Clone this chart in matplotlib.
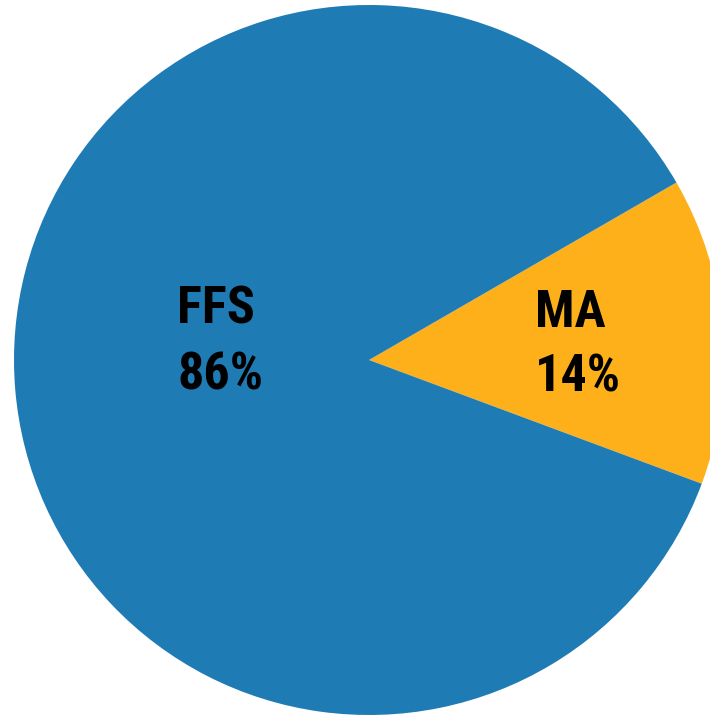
import matplotlib
matplotlib.use("Agg")
import matplotlib.pyplot as plt

labels = ["MA", "FFS"]
shares = [14, 86]
colors = ["#fdb019", "#1f7bb4"]

# left edge and baseline (pixels from top) for the two label lines
label_pos = {"MA": (535, 327, 392), "FFS": (177, 323, 389)}

W, H = 710, 715
fig = plt.figure(figsize=(W / 100, H / 100), dpi=100)
ax = fig.add_axes([0, 0, 1, 1])

ax.pie(shares, colors=colors, startangle=-20.4, counterclock=True,
       center=(369, H - 360), radius=355, frame=True,
       wedgeprops=dict(linewidth=0, antialiased=True))
ax.set_xlim(0, W)
ax.set_ylim(0, H)
ax.set_aspect("equal")
ax.axis("off")

font = dict(family=["Liberation Sans Narrow", "Roboto Condensed", "Liberation Sans"],
            weight="bold", fontsize=37.5, color="black", ha="left", va="baseline")
for lab, val in zip(labels, shares):
    x, y1, y2 = label_pos[lab]
    ax.text(x, H - y1, lab, **font)
    ax.text(x, H - y2, f"{val}%", **font)

fig.savefig("out.png", dpi=100, facecolor="white")
